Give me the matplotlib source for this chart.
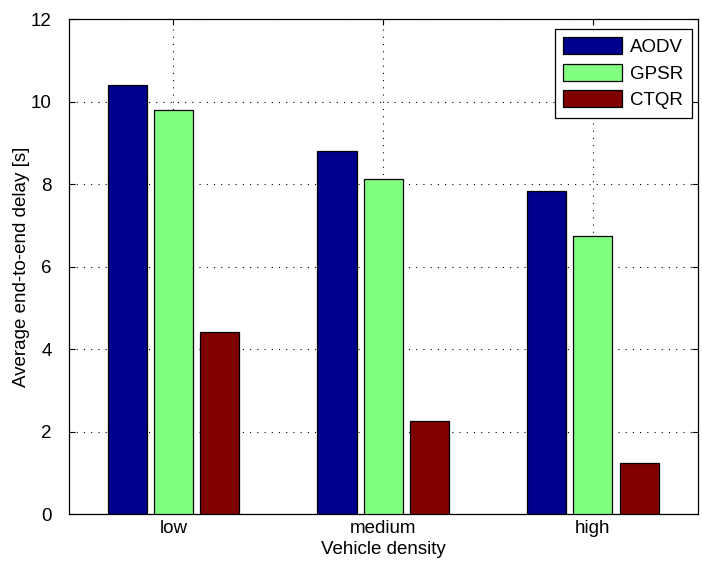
import matplotlib.pyplot as plt
import numpy as np

plt.rcParams['font.family'] = ['Liberation Sans', 'DejaVu Sans']

densities = ['low', 'medium', 'high']
aodv = [10.4, 8.8, 7.83]
gpsr = [9.8, 8.13, 6.73]
ctqr = [4.42, 2.25, 1.24]

series = [('AODV', aodv, '#00008F'),
          ('GPSR', gpsr, '#80FF80'),
          ('CTQR', ctqr, '#800000')]

fs = 13.5

fig = plt.figure(figsize=(7.02, 5.71), dpi=100)
ax = fig.add_axes([0.0976, 0.0998, 0.8964, 0.8669])

x = np.arange(1, len(densities) + 1)
width = 0.186
step = 0.22
for i, (name, vals, color) in enumerate(series):
    ax.bar(x + (i - 1) * step, vals, width, color=color, edgecolor='black',
           linewidth=0.9, label=name, zorder=3)

ax.set_xlim(0.5, 3.5)
ax.set_ylim(0, 12)
ax.set_xticks(x)
ax.set_xticklabels(densities)
ax.set_yticks(range(0, 13, 2))
ax.tick_params(direction='in', length=4, labelsize=fs, top=True, right=True,
               labeltop=False, labelright=False)
ax.tick_params(axis='y', pad=12)
ax.tick_params(axis='x', pad=4)
ax.grid(True, linestyle=(0, (1, 5.5)), color='black', linewidth=0.8, zorder=0)
ax.set_axisbelow(True)
for s in ax.spines.values():
    s.set_linewidth(0.9)

ax.set_xlabel('Vehicle density', fontsize=fs, labelpad=3)
ax.set_ylabel('Average end-to-end delay [s]', fontsize=fs, labelpad=1)

leg = ax.legend(loc='upper right', bbox_to_anchor=(0.9905, 0.98),
                borderaxespad=0, fontsize=fs, fancybox=False,
                edgecolor='black', framealpha=1, handlelength=3.15,
                handleheight=1.0, handletextpad=0.43, labelspacing=0.41,
                borderpad=0.45)
leg.get_frame().set_linewidth(0.9)

plt.savefig('out.png', dpi=100)
